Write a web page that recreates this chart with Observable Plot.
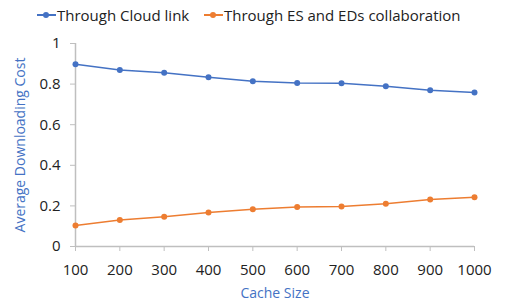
<!DOCTYPE html>
<html><head><meta charset="utf-8">
<script src="https://cdn.jsdelivr.net/npm/d3@7"></script>
<script src="https://cdn.jsdelivr.net/npm/@observablehq/plot@0.6"></script>
<style>
body{margin:0;background:#fff;font-family:"Open Sans",sans-serif;}
#legend{height:30px;position:relative;font-size:15px;color:#222;}
.item{position:absolute;top:5px;display:flex;align-items:center;white-space:nowrap;}
.sw{position:relative;width:19px;height:2px;margin-right:1px;}
.sw i{position:absolute;left:6px;top:-2.5px;width:6px;height:6px;border-radius:50%;}
</style></head><body>
<div id="legend"></div>
<div id="chart"></div>
<script>
const cacheSizes = [100,200,300,400,500,600,700,800,900,1000];
const cloudCost = [0.898,0.869,0.856,0.834,0.814,0.806,0.804,0.790,0.770,0.759];
const collabCost = [0.104,0.131,0.146,0.167,0.183,0.195,0.197,0.211,0.231,0.242];
const seriesNames = ["Through Cloud link","Through ES and EDs collaboration"];
const seriesColors = ["#4472C4","#ED7D31"];
const yTicks = [0,0.2,0.4,0.6,0.8,1];

const data = [];
cacheSizes.forEach((c,i)=>{
  data.push({size:c, cost:cloudCost[i], series:seriesNames[0]});
  data.push({size:c, cost:collabCost[i], series:seriesNames[1]});
});

const leg = document.getElementById("legend");
const lx = [37,204];
seriesNames.forEach((n,i)=>{
  const d = document.createElement("div");
  d.className="item"; d.style.left=lx[i]+"px";
  d.innerHTML = `<span class="sw" style="background:${seriesColors[i]}"><i style="background:${seriesColors[i]}"></i></span><span>${n}</span>`;
  leg.appendChild(d);
});

const plot = Plot.plot({
  width:505, height:273,
  marginLeft:75, marginRight:31, marginTop:13, marginBottom:57,
  style:{fontFamily:"Open Sans, sans-serif", fontSize:"14px", color:"#222", background:"#fff"},
  x:{domain:[100,1000], ticks:cacheSizes, tickFormat:d=>String(d), label:null},
  y:{domain:[0,1], ticks:yTicks, tickFormat:d=>String(d), label:null},
  color:{domain:seriesNames, range:seriesColors},
  marks:[
    Plot.ruleX([100],{stroke:"#bfbfbf",strokeWidth:1.5}),
    Plot.ruleY([0],{stroke:"#bfbfbf",strokeWidth:1.5}),
    Plot.axisY({ticks:yTicks, tickSize:5, tickPadding:10, stroke:"#bfbfbf", tickFormat:d=>String(d), fontSize:15, label:null}),
    Plot.axisX({ticks:cacheSizes, tickSize:5, tickPadding:13, stroke:"#bfbfbf", tickFormat:d=>String(d), fontSize:15, label:null}),
    Plot.line(data,{x:"size",y:"cost",stroke:"series",strokeWidth:1.5}),
    Plot.dot(data,{x:"size",y:"cost",fill:"series",r:3})
  ]
});
document.getElementById("chart").appendChild(plot);

// axis titles
const svg = d3.select(plot);
svg.append("text").attr("x",275).attr("y",268).attr("text-anchor","middle")
  .attr("fill","#4472C4").attr("font-size",14).text("Cache Size");
svg.append("text").attr("transform","translate(25,115) rotate(-90)").attr("text-anchor","middle")
  .attr("fill","#4472C4").attr("font-size",14).text("Average Downloading Cost");
</script>
</body></html>
